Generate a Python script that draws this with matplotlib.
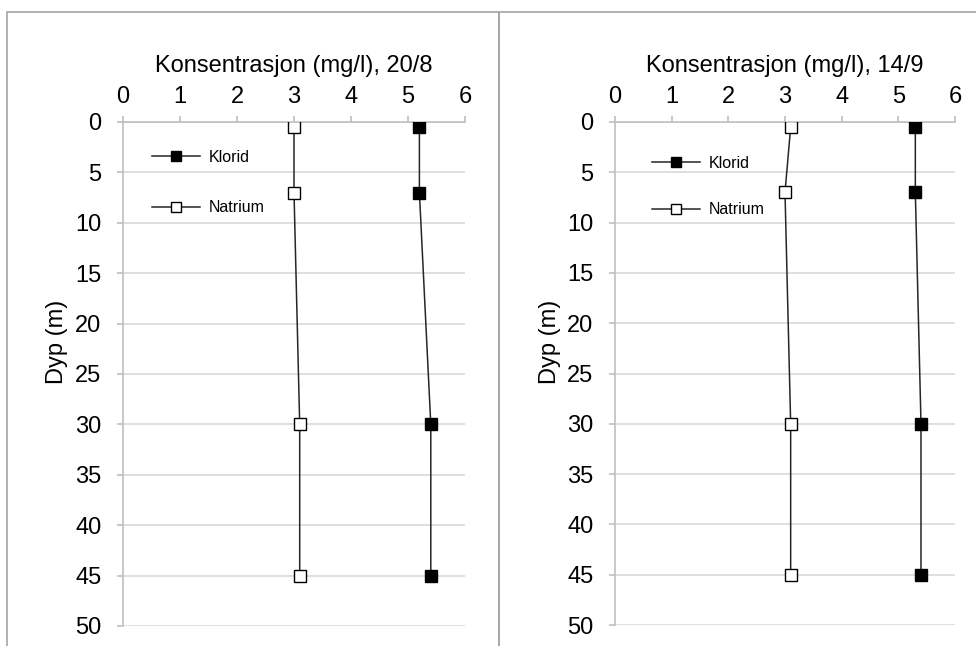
import matplotlib
matplotlib.use("Agg")
import matplotlib.pyplot as plt
from matplotlib.patches import Rectangle

plt.rcParams['font.family'] = ['Liberation Sans', 'DejaVu Sans']

# Depth of samples (m)
depth = [0.5, 7, 30, 45]

# Concentrations (mg/l)
klorid_20_8 = [5.2, 5.2, 5.4, 5.4]
natrium_20_8 = [3.0, 3.0, 3.1, 3.1]
klorid_14_9 = [5.3, 5.3, 5.4, 5.4]
natrium_14_9 = [3.1, 3.0, 3.1, 3.1]

titles = ["Konsentrasjon (mg/l), 20/8", "Konsentrasjon (mg/l), 14/9"]
x_ticks = [0, 1, 2, 3, 4, 5, 6]
y_ticks = [0, 5, 10, 15, 20, 25, 30, 35, 40, 45, 50]

W, H = 976, 646
fig = plt.figure(figsize=(W / 100, H / 100), dpi=100)

# Panel frames
frame_col = '#a6a6a6'
fig.patches.append(Rectangle((7 / W, -0.05), (499 - 7) / W, 1.05 - 12 / H,
                             transform=fig.transFigure, fill=False,
                             edgecolor=frame_col, linewidth=1.2))
fig.patches.append(Rectangle((499 / W, -0.05), (990 - 499) / W, 1.05 - 12 / H,
                             transform=fig.transFigure, fill=False,
                             edgecolor=frame_col, linewidth=1.2))

# axes positions in pixels: (x0, x1, y_top, y_bottom)
boxes = [(123, 465, 122, 626), (615, 955, 122, 625)]
series = [(klorid_20_8, natrium_20_8), (klorid_14_9, natrium_14_9)]
legend_pos = [(152, 150), (652, 156)]
legend_gap = [2.2, 1.95]
ylabel_x = [68, 561]
fs = 17

for (x0, x1, yt, yb), (kl, na), title, lp, lg, ylx in zip(
        boxes, series, titles, legend_pos, legend_gap, ylabel_x):
    ax = fig.add_axes([x0 / W, 1 - yb / H, (x1 - x0) / W, (yb - yt) / H])
    ax.set_xlim(0, 6)
    ax.set_ylim(50, 0)
    ax.xaxis.tick_top()
    ax.xaxis.set_label_position('top')
    ax.set_xticks(x_ticks)
    ax.set_yticks(y_ticks)
    ax.tick_params(axis='both', labelsize=fs, colors='#bfbfbf',
                   labelcolor='black', length=4.5, width=1.2)
    ax.tick_params(axis='x', pad=5.5)
    ax.tick_params(axis='y', pad=11)
    for s in ['right', 'bottom']:
        ax.spines[s].set_visible(False)
    for s in ['left', 'top']:
        ax.spines[s].set_color('#bfbfbf')
        ax.spines[s].set_linewidth(1.2)
    ax.grid(axis='y', color='#d9d9d9', linewidth=1.2)
    ax.set_axisbelow(True)

    ax.plot(kl, depth, color='#262626', linewidth=1.1, marker='s',
            markersize=8, markerfacecolor='black', markeredgecolor='black',
            label='Klorid', zorder=3)
    ax.plot(na, depth, color='#262626', linewidth=1.1, marker='s',
            markersize=8, markerfacecolor='white', markeredgecolor='black',
            label='Natrium', zorder=3)

    ax.set_xlabel(title, fontsize=fs, labelpad=10.5)
    ax.set_ylabel('Dyp (m)', fontsize=fs)
    ax.yaxis.set_label_coords((ylx - x0) / (x1 - x0), (yb - 342) / (yb - yt))

    leg = ax.legend(loc='upper left',
                    bbox_to_anchor=(lp[0] / W, 1 - lp[1] / H),
                    bbox_transform=fig.transFigure, frameon=False,
                    fontsize=11.5, handlelength=3.0, handletextpad=0.55,
                    labelspacing=lg, borderaxespad=0, borderpad=0)
    for h in leg.legend_handles:
        h.set_markersize(6.5)

fig.savefig('out.png', dpi=100)
